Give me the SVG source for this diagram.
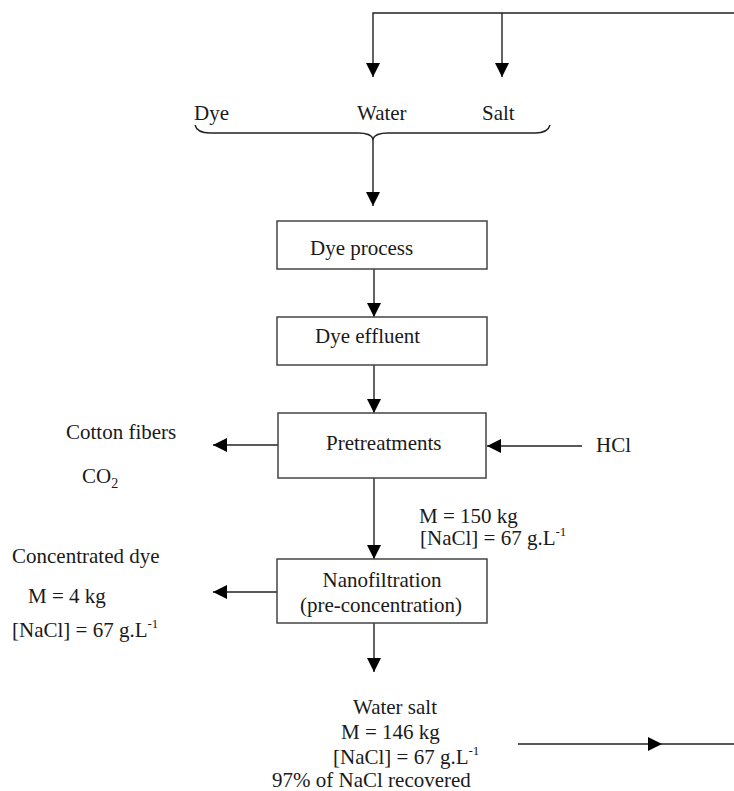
<svg xmlns="http://www.w3.org/2000/svg" width="734" height="791" viewBox="0 0 734 791">
<style>
text{font-family:"Liberation Serif","Times New Roman",serif;font-size:21px;fill:#1a1a1a}
.box{fill:#fff;stroke:#444;stroke-width:1.5}
.ln{fill:none;stroke:#222;stroke-width:1.4}
.sup{font-size:13px}
.sub{font-size:14px}
</style>
<defs>
<marker id="ah" markerUnits="userSpaceOnUse" markerWidth="14" markerHeight="14" refX="14" refY="7" orient="auto">
<path d="M0,0 L14,7 L0,14 z" fill="#000"/>
</marker>
</defs>
<rect width="734" height="791" fill="#fff"/>
<g id="connectors">
<path class="ln" d="M734,13 L373,13 L373,77" marker-end="url(#ah)"/>
<path class="ln" d="M502,13 L502,77" marker-end="url(#ah)"/>
<path class="ln" d="M195,125 Q197,133 210,133 L358,133 Q371,133 373,139 Q375,133 388,133 L535,133 Q548,133 550,125"/>
<path class="ln" d="M373,139 L373,206" marker-end="url(#ah)"/>
<path class="ln" d="M374,269 L374,317" marker-end="url(#ah)"/>
<path class="ln" d="M374,365 L374,413" marker-end="url(#ah)"/>
<path class="ln" d="M278,445 L213,445" marker-end="url(#ah)"/>
<path class="ln" d="M582,446 L487,446" marker-end="url(#ah)"/>
<path class="ln" d="M374,478 L374,559" marker-end="url(#ah)"/>
<path class="ln" d="M277,592 L213,592" marker-end="url(#ah)"/>
<path class="ln" d="M374,623 L374,672" marker-end="url(#ah)"/>
<path class="ln" d="M518,744 L662,744" marker-end="url(#ah)"/>
<path class="ln" d="M662,744 L734,744"/>
</g>
<g id="inputs">
<text x="194" y="120">Dye</text>
<text x="357" y="120">Water</text>
<text x="482" y="120">Salt</text>
</g>
<g id="dye-process">
<rect class="box" x="277" y="221" width="210" height="48"/>
<text x="310" y="255">Dye process</text>
</g>
<g id="dye-effluent">
<rect class="box" x="277" y="317" width="210" height="48"/>
<text x="315" y="343">Dye effluent</text>
</g>
<g id="pretreatments">
<rect class="box" x="278" y="413" width="208" height="65"/>
<text x="326" y="450">Pretreatments</text>
</g>
<g id="byproducts">
<text x="66" y="439">Cotton fibers</text>
<text x="82" y="483">CO<tspan class="sub" dy="5">2</tspan></text>
</g>
<g id="hcl">
<text x="596" y="452">HCl</text>
</g>
<g id="feed">
<text x="419" y="523">M = 150 kg</text>
<text x="420" y="545">[NaCl] = 67 g.L<tspan class="sup" dy="-9">-1</tspan></text>
</g>
<g id="nanofiltration">
<rect class="box" x="277" y="559" width="210" height="64"/>
<text x="382" y="587" text-anchor="middle">Nanofiltration</text>
<text x="381" y="612" text-anchor="middle">(pre-concentration)</text>
</g>
<g id="concentrated-dye">
<text x="12" y="563">Concentrated dye</text>
<text x="28" y="603">M = 4 kg</text>
<text x="12" y="637">[NaCl] = 67 g.L<tspan class="sup" dy="-9">-1</tspan></text>
</g>
<g id="water-salt">
<text x="353" y="714">Water salt</text>
<text x="341" y="739">M = 146 kg</text>
<text x="333" y="764">[NaCl] = 67 g.L<tspan class="sup" dy="-9">-1</tspan></text>
<text x="272" y="787">97% of NaCl recovered</text>
</g>
</svg>
